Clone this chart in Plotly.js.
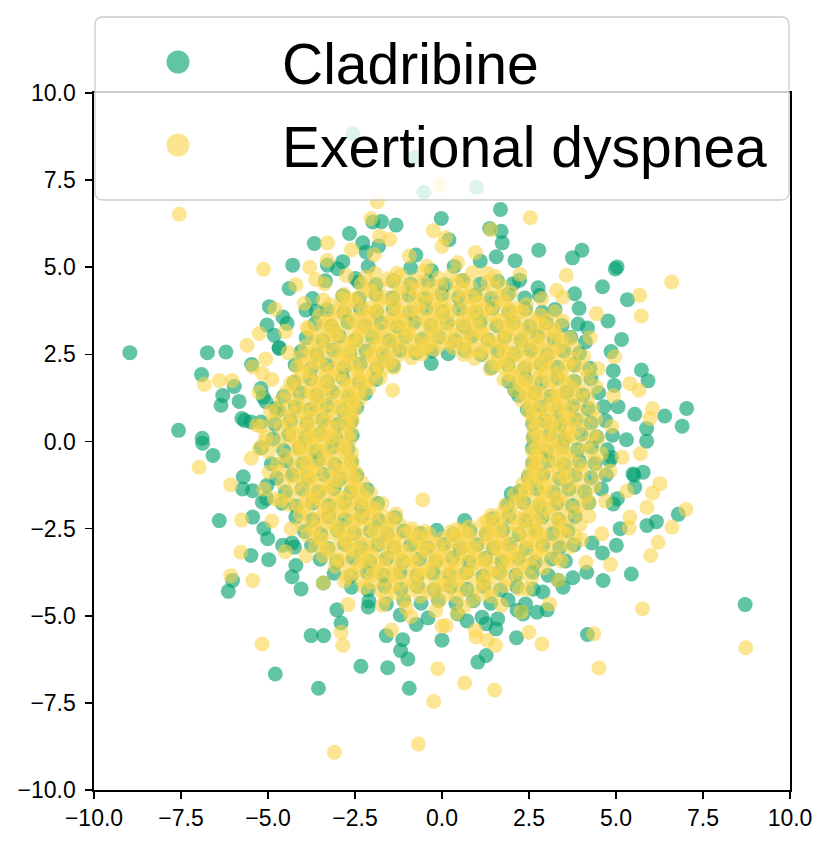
<!DOCTYPE html>
<html>
<head>
<meta charset="utf-8">
<script src="https://cdn.plot.ly/plotly-3.0.1.min.js"></script>
<style>
  html, body { margin: 0; padding: 0; background: #ffffff; }
  #chart { width: 831px; height: 846px; }
</style>
</head>
<body>
<div id="chart"></div>
<script>
// ---------------- data ----------------
const seriesNames = ["Cladribine", "Exertional dyspnea"];
const tickValues = [-10, -7.5, -5, -2.5, 0, 2.5, 5, 7.5, 10];

// Cladribine: dense ring
const cladribineRing = [
[-2.58,0.18],[-3.05,0.1],[-3.5,0.22],[-3.92,0.12],[-4.4,0.2],[-4.85,0.08],[2.62,0.12],[3.1,0.2],[3.52,0.09],[4.0,0.21],[4.45,0.13],[4.9,0.18],
[-2.7,-0.22],[-3.15,-0.15],[-3.62,-0.27],[-4.1,-0.18],[-4.55,-0.25],[2.6,-0.18],[3.0,-0.26],[3.45,-0.14],[3.9,-0.23],[4.3,-0.16],[4.75,-0.24],
[-2.6,0.58],[-2.98,0.5],[-3.42,0.62],[-3.88,0.52],[-4.35,0.6],[-4.8,0.5],[2.6,0.52],[2.95,0.6],[3.4,0.5],[3.85,0.62],[4.28,0.54],[4.7,0.6],
[-2.6,-0.58],[-3.08,-0.66],[-3.55,-0.54],[-4.0,-0.63],[-4.48,-0.56],[-4.9,-0.64],[2.6,-0.62],[3.05,-0.55],[3.5,-0.65],[3.95,-0.57],[4.4,-0.63],[4.82,-0.55],
[-2.45,0.98],[-2.85,0.9],[-3.3,1.02],[-3.78,0.92],[-4.22,1.0],[-4.7,0.9],[2.45,0.92],[2.85,1.0],[3.32,0.9],[3.75,1.02],[4.2,0.94],[4.65,1.0],
[-2.45,-0.98],[-2.92,-1.06],[-3.4,-0.95],[-3.85,-1.04],[-4.3,-0.96],[-4.75,-1.05],[2.48,-1.02],[2.9,-0.95],[3.38,-1.06],[3.82,-0.97],[4.28,-1.04],[4.72,-0.96],
[-2.2,1.38],[-2.68,1.3],[-3.15,1.42],[-3.6,1.32],[-4.08,1.4],[-4.55,1.3],[2.2,1.32],[2.66,1.4],[3.12,1.3],[3.58,1.42],[4.05,1.33],[4.5,1.4],
[-2.15,-1.38],[-2.62,-1.45],[-3.1,-1.35],[-3.55,-1.44],[-4.02,-1.36],[-4.5,-1.45],[2.25,-1.42],[2.72,-1.35],[3.2,-1.46],[3.65,-1.37],[4.1,-1.44],[4.58,-1.36],
[-1.9,1.78],[-2.38,1.7],[-2.85,1.82],[-3.3,1.72],[-3.78,1.8],[-4.25,1.7],[1.92,1.72],[2.4,1.8],[2.86,1.7],[3.32,1.82],[3.8,1.73],[4.28,1.8],
[-1.85,-1.78],[-2.32,-1.86],[-2.8,-1.75],[-3.25,-1.84],[-3.72,-1.76],[-4.2,-1.85],[-4.6,-1.77],[1.88,-1.82],[2.35,-1.75],[2.82,-1.86],[3.3,-1.77],[3.75,-1.84],[4.22,-1.76],
[-1.4,2.18],[-1.88,2.1],[-2.35,2.22],[-2.82,2.12],[-3.3,2.2],[-3.76,2.1],[-4.22,2.2],[1.42,2.12],[1.9,2.2],[2.38,2.1],[2.85,2.22],[3.32,2.13],[3.8,2.2],[4.25,2.1],
[-1.35,-2.18],[-1.82,-2.26],[-2.3,-2.15],[-2.78,-2.24],[-3.25,-2.16],[-3.72,-2.25],[-4.2,-2.17],[1.45,-2.22],[1.92,-2.15],[2.4,-2.26],[2.88,-2.17],[3.35,-2.24],[3.82,-2.16],
[-4.05,2.58],[-3.6,2.5],[-3.12,2.62],[-2.65,2.52],[-2.18,2.6],[-1.7,2.5],[-1.22,2.62],[-0.75,2.55],[-0.3,2.6],[0.18,2.52],[0.65,2.62],[1.12,2.5],[1.6,2.6],[2.08,2.52],[2.55,2.62],[3.02,2.5],[3.5,2.6],[3.95,2.53],
[-3.95,-2.58],[-3.48,-2.66],[-3.0,-2.55],[-2.52,-2.64],[-2.05,-2.56],[-1.58,-2.65],[-1.1,-2.57],[-0.62,-2.64],[-0.15,-2.55],[0.32,-2.66],[0.8,-2.56],[1.28,-2.64],[1.75,-2.55],[2.22,-2.66],[2.7,-2.57],[3.18,-2.64],[3.62,-2.56],
[-3.9,2.98],[-3.42,2.9],[-2.95,3.02],[-2.48,2.92],[-2.0,3.0],[-1.52,2.9],[-1.05,3.02],[-0.58,2.93],[-0.1,3.0],[0.38,2.9],[0.85,3.02],[1.32,2.92],[1.8,3.0],[2.28,2.9],[2.75,3.02],[3.22,2.92],[3.7,2.99],
[-3.75,-2.98],[-3.28,-3.06],[-2.8,-2.95],[-2.32,-3.04],[-1.85,-2.96],[-1.38,-3.05],[-0.9,-2.97],[-0.42,-3.04],[0.05,-2.95],[0.52,-3.06],[1.0,-2.96],[1.48,-3.04],[1.95,-2.95],[2.42,-3.06],[2.9,-2.97],[3.38,-3.04],[3.8,-2.96],
[-3.65,3.38],[-3.18,3.3],[-2.7,3.42],[-2.22,3.32],[-1.75,3.4],[-1.28,3.3],[-0.8,3.42],[-0.32,3.33],[0.15,3.4],[0.62,3.3],[1.1,3.42],[1.58,3.32],[2.05,3.4],[2.52,3.3],[3.0,3.4],[3.45,3.33],
[-3.5,-3.38],[-3.02,-3.45],[-2.55,-3.35],[-2.08,-3.44],[-1.6,-3.36],[-1.12,-3.45],[-0.65,-3.37],[-0.18,-3.44],[0.3,-3.35],[0.78,-3.46],[1.25,-3.36],[1.72,-3.44],[2.2,-3.35],[2.68,-3.46],[3.15,-3.37],[3.55,-3.43],
[-3.3,3.78],[-2.82,3.7],[-2.35,3.82],[-1.88,3.72],[-1.4,3.8],[-0.92,3.7],[-0.45,3.82],[0.02,3.73],[0.5,3.8],[0.98,3.7],[1.45,3.82],[1.92,3.72],[2.4,3.8],[2.88,3.71],[3.25,3.79],
[-3.1,-3.78],[-2.62,-3.86],[-2.15,-3.75],[-1.68,-3.84],[-1.2,-3.76],[-0.72,-3.85],[-0.25,-3.77],[0.22,-3.84],[0.7,-3.75],[1.18,-3.86],[1.65,-3.76],[2.12,-3.84],[2.6,-3.75],[3.05,-3.84],
[-2.85,4.18],[-2.38,4.1],[-1.9,4.22],[-1.42,4.12],[-0.95,4.2],[-0.48,4.1],[0.0,4.22],[0.48,4.13],[0.95,4.2],[1.42,4.1],[1.9,4.22],[2.38,4.12],[2.8,4.19],
[-2.6,-4.18],[-2.12,-4.26],[-1.65,-4.15],[-1.18,-4.24],[-0.7,-4.16],[-0.22,-4.25],[0.25,-4.17],[0.72,-4.24],[1.2,-4.15],[1.68,-4.26],[2.15,-4.17],[2.62,-4.24],
[-2.4,4.58],[-1.9,4.5],[-1.4,4.62],[-0.9,4.52],[-0.4,4.6],[0.1,4.5],[0.6,4.62],[1.1,4.52],[1.6,4.6],[2.05,4.53],
[-2.1,-4.58],[-1.6,-4.66],[-1.1,-4.55],[-0.6,-4.64],[-0.1,-4.56],[0.4,-4.65],[0.9,-4.57],[1.4,-4.64],[1.9,-4.55],
[-0.9,4.98],[-0.3,4.9],[0.35,5.02],
[-1.2,-4.98],[-0.4,-5.06],[0.45,-4.95],[1.15,-5.04]
];

// Cladribine: outer band of the ring
const cladribineBand = [
[5.3,0.05],[5.54,0.78],[4.95,1.61],[4.86,2.58],[4.18,3.26],[3.81,4.24],[2.76,4.41],[2.1,5.19],[1.1,5.18],[0.2,5.79],
[-0.75,5.35],[-1.82,5.61],[-2.49,4.68],[-3.35,4.61],[-3.61,3.74],[-4.57,3.57],[-4.68,2.7],[-5.47,2.21],[-5.14,1.28],[-5.67,0.6],
[-5.19,-0.18],[-5.71,-1.01],[-5.04,-1.64],[-5.12,-2.5],[-4.31,-2.91],[-4.31,-3.88],[-3.41,-4.06],[-3.02,-4.83],[-2.12,-4.75],[-1.6,-5.57],
[-0.74,-5.25],[0.0,-5.7],[0.72,-5.15],[1.55,-5.38],[2.16,-4.84],[3.02,-4.83],[3.34,-3.98],[4.16,-3.75],[4.31,-2.91],[5.12,-2.5],
[5.04,-1.64],[5.52,-0.97]
];

// Cladribine: scattered points outside the ring
const cladribineOutliers = [
[-8.97,2.55],[-6.74,2.55],[-6.21,2.57],[-6.91,1.92],[-5.97,1.58],[-6.3,1.32],[-5.83,1.15],[-6.35,1.04],[-5.75,0.66],[-7.57,0.32],
[-6.89,0.09],[-4.96,3.87],[-5.03,3.34],[-4.39,4.39],[-4.29,5.06],[-3.67,5.68],[-2.66,5.97],[-2.28,5.7],[-2.18,5.44],[-1.99,6.3],
[-1.74,6.31],[-1.32,6.21],[-3.29,5.06],[-3.0,4.96],[-2.85,5.16],[-2.12,5.02],[-3.72,4.1],[-4.45,3.39],[-3.91,3.77],[-0.31,2.24],
[-0.02,6.4],[-4.68,2.67],[-4.82,3.05],[-5.2,1.52],[-5.06,1.14],[-4.77,0.95],[-5.49,0.56],[-5.2,0.56],
[1.68,6.66],[1.37,6.11],[1.7,6.03],[1.73,5.7],[1.56,5.3],[2.78,5.49],[4.02,5.49],[3.75,5.27],[5.03,5.01],[4.98,4.95],
[4.61,4.44],[5.33,4.07],[3.94,3.82],[3.91,3.37],[4.77,3.46],[5.16,2.93],[5.73,2.05],[5.92,1.74],[4.92,2.03],[6.4,0.73],
[7.03,0.95],[6.9,0.44],[5.88,0.37],[5.06,1.0],[4.12,2.86],[2.09,1.47],[2.23,4.63],
[-6.88,-0.05],[-6.58,-0.4],[-5.73,-1.36],[-5.44,-1.41],[-6.4,-2.27],[-5.44,-2.17],[-5.03,-1.26],[-5.16,-1.74],[-5.49,-3.27],[-5.01,-2.79],
[-4.98,-3.39],[-6.02,-3.99],[-6.14,-4.3],[-4.2,-3.56],[-4.05,-4.23],[-4.58,-2.98],[-4.24,-3.03],[-3.76,-5.57],[-3.4,-5.57],[-4.79,-6.67],
[-3.55,-7.08],[-2.33,-6.45],[-1.56,-6.49],[-0.98,-6.24],[-1.13,-5.69],[-1.19,-6.0],[-0.94,-7.08],[-2.9,-5.21],
[8.71,-4.68],[4.18,-5.54],[1.03,-6.33],[1.27,-6.14],[5.44,-3.8],[4.63,-3.99],[5.89,-2.41],[6.16,-2.3],[6.79,-2.09],[5.54,-1.31],
[5.49,-0.93],[5.78,-0.88],[5.88,0.01],[4.87,-0.45],[4.92,-1.79],[5.01,-2.98],[4.61,-3.2],[3.76,-3.91],[3.48,-4.18],[2.9,-4.32],
[2.73,-4.9],[2.4,-4.66],[2.33,-4.95],[1.6,-5.09],[2.14,-5.63],[1.27,-5.23],[0.65,-2.27],[1.99,-1.5],
[-2.56,8.83],[-0.76,8.16],[-0.52,7.15],[0.99,7.3]
];

// Exertional dyspnea: dense ring
const dyspneaRing = [
[-2.65,0.05],[-2.93,-0.1],[-3.22,0.12],[-3.48,-0.04],[-3.74,0.08],[-4.02,-0.12],[-4.38,0.1],[-4.72,-0.02],[-5.05,0.15],[2.62,0.1],[2.88,-0.08],[3.14,0.05],[3.43,-0.12],[3.77,0.14],[4.12,-0.05],[4.48,0.09],
[-2.62,0.28],[-3.04,0.35],[-3.33,0.22],[-3.63,0.4],[-3.92,0.3],[-4.27,0.25],[-4.62,0.38],[2.64,0.33],[2.97,0.24],[3.28,0.4],[3.58,0.27],[3.91,0.36],[4.32,0.22],
[-2.6,-0.32],[-2.83,-0.25],[-3.12,-0.38],[-3.47,-0.27],[-3.82,-0.35],[-4.13,-0.22],[-4.53,-0.4],[-4.98,-0.3],[-5.25,-0.2],[2.6,-0.28],[2.92,-0.36],[3.18,-0.22],[3.52,-0.4],[3.83,-0.3],[4.22,-0.25],[4.58,-0.35],
[-2.58,0.62],[-2.77,0.55],[-3.07,0.7],[-3.38,0.58],[-3.77,0.66],[-4.12,0.52],[-4.48,0.68],[-4.85,0.6],[2.6,0.57],[2.82,0.65],[3.13,0.53],[3.47,0.7],[3.72,0.6],[4.07,0.55],[4.42,0.64],
[-2.58,-0.58],[-2.87,-0.66],[-3.23,-0.54],[-3.57,-0.7],[-3.88,-0.6],[-4.32,-0.52],[-4.73,-0.65],[2.6,-0.62],[2.77,-0.55],[3.07,-0.7],[3.33,-0.6],[3.67,-0.52],[3.98,-0.66],[4.37,-0.58],
[-2.5,0.92],[-2.72,0.85],[-3.02,0.98],[-3.28,0.84],[-3.67,0.95],[-4.02,0.88],[-4.38,0.96],[-4.75,0.9],[2.48,0.88],[2.72,0.95],[3.02,0.84],[3.28,0.97],[3.62,0.9],[3.93,0.83],[4.32,0.94],
[-2.48,-0.88],[-2.67,-0.95],[-2.97,-0.84],[-3.28,-0.97],[-3.62,-0.9],[-3.93,-0.83],[-4.32,-0.95],[-4.67,-0.86],[2.5,-0.92],[2.72,-0.85],[3.07,-0.96],[3.38,-0.87],[3.72,-0.93],[4.03,-0.84],[4.47,-0.9],
[-2.35,1.22],[-2.57,1.15],[-2.92,1.28],[-3.23,1.13],[-3.57,1.25],[-3.88,1.18],[-4.27,1.3],[-4.62,1.2],[2.3,1.18],[2.57,1.26],[2.88,1.14],[3.22,1.27],[3.52,1.2],[3.87,1.12],[4.18,1.25],
[-2.3,-1.18],[-2.52,-1.26],[-2.87,-1.13],[-3.17,-1.27],[-3.48,-1.2],[-3.87,-1.12],[-4.22,-1.25],[-4.58,-1.2],[2.32,-1.22],[2.62,-1.15],[2.93,-1.28],[3.32,-1.14],[3.63,-1.24],[4.02,-1.17],[4.38,-1.28],
[-2.1,1.52],[-2.42,1.45],[-2.73,1.58],[-3.12,1.44],[-3.38,1.56],[-3.77,1.48],[-4.08,1.55],[-4.47,1.43],[2.1,1.48],[2.37,1.56],[2.68,1.43],[3.07,1.57],[3.33,1.46],[3.72,1.54],[4.03,1.45],[4.42,1.58],
[-2.05,-1.48],[-2.32,-1.56],[-2.63,-1.43],[-3.02,-1.57],[-3.33,-1.46],[-3.72,-1.54],[-4.03,-1.45],[-4.42,-1.55],[2.08,-1.52],[2.42,-1.44],[2.73,-1.58],[3.12,-1.46],[3.43,-1.55],[3.82,-1.43],[4.13,-1.56],
[-1.78,1.82],[-2.12,1.75],[-2.43,1.88],[-2.82,1.74],[-3.13,1.86],[-3.52,1.78],[-3.83,1.85],[-4.22,1.73],[1.78,1.78],[2.12,1.86],[2.43,1.74],[2.82,1.87],[3.08,1.76],[3.47,1.84],[3.78,1.73],[4.17,1.86],
[-1.72,-1.78],[-2.07,-1.86],[-2.38,-1.74],[-2.72,-1.87],[-3.03,-1.76],[-3.42,-1.84],[-3.73,-1.73],[-4.12,-1.86],[-4.42,-1.8],[1.82,-1.82],[2.13,-1.75],[2.52,-1.88],[2.83,-1.74],[3.22,-1.86],[3.53,-1.78],[3.92,-1.85],[4.23,-1.74],
[-1.38,2.12],[-1.72,2.05],[-2.03,2.18],[-2.42,2.04],[-2.73,2.16],[-3.12,2.08],[-3.43,2.15],[-3.82,2.03],[-4.17,2.14],[1.38,2.08],[1.72,2.16],[2.03,2.04],[2.42,2.17],[2.73,2.06],[3.12,2.14],[3.43,2.03],[3.82,2.16],[4.12,2.08],
[-1.32,-2.08],[-1.67,-2.16],[-1.98,-2.04],[-2.37,-2.17],[-2.68,-2.06],[-3.07,-2.14],[-3.38,-2.03],[-3.77,-2.16],[-4.08,-2.08],[1.42,-2.12],[1.73,-2.05],[2.12,-2.18],[2.43,-2.04],[2.82,-2.16],[3.13,-2.07],[3.52,-2.15],[3.83,-2.03],[4.22,-2.14],
[-4.07,2.42],[-3.68,2.35],[-3.37,2.48],[-2.98,2.34],[-2.67,2.46],[-2.28,2.38],[-1.97,2.45],[-1.58,2.33],[-1.27,2.47],[-0.88,2.4],[-0.57,2.52],[0.62,2.5],[0.93,2.38],[1.32,2.46],[1.63,2.34],[2.02,2.44],[2.33,2.37],[2.72,2.47],[3.03,2.35],[3.42,2.45],[3.73,2.36],[4.07,2.44],
[-4.02,-2.38],[-3.63,-2.46],[-3.32,-2.34],[-2.93,-2.47],[-2.62,-2.36],[-2.23,-2.44],[-1.92,-2.33],[-1.53,-2.46],[-1.22,-2.38],[-0.87,-2.5],[0.42,-2.52],[0.78,-2.45],[1.17,-2.36],[1.48,-2.47],[1.87,-2.35],[2.18,-2.44],[2.57,-2.37],[2.88,-2.46],[3.27,-2.34],[3.58,-2.45],[3.97,-2.38],
[-3.92,2.72],[-3.53,2.65],[-3.22,2.78],[-2.83,2.64],[-2.52,2.76],[-2.13,2.68],[-1.82,2.75],[-1.43,2.63],[-1.12,2.77],[-0.73,2.66],[-0.42,2.74],[-0.03,2.8],[0.32,2.7],[0.63,2.78],[1.02,2.65],[1.33,2.76],[1.72,2.64],[2.03,2.75],[2.42,2.67],[2.73,2.77],[3.12,2.64],[3.43,2.74],[3.82,2.66],
[-3.87,-2.68],[-3.48,-2.76],[-3.17,-2.63],[-2.78,-2.77],[-2.47,-2.66],[-2.08,-2.74],[-1.77,-2.64],[-1.38,-2.78],[-1.07,-2.67],[-0.68,-2.75],[-0.37,-2.65],[0.02,-2.78],[0.33,-2.7],[0.72,-2.64],[1.03,-2.77],[1.42,-2.66],[1.73,-2.74],[2.12,-2.63],[2.43,-2.76],[2.82,-2.67],[3.13,-2.75],[3.52,-2.64],[3.83,-2.72],
[-3.72,3.02],[-3.33,2.95],[-3.02,3.08],[-2.63,2.94],[-2.32,3.06],[-1.93,2.98],[-1.62,3.05],[-1.23,2.93],[-0.92,3.07],[-0.53,2.96],[-0.22,3.04],[0.17,2.93],[0.48,3.06],[0.87,2.97],[1.18,3.05],[1.57,2.94],[1.88,3.07],[2.27,2.96],[2.58,3.04],[2.97,2.93],[3.28,3.06],[3.67,2.97],
[-3.63,-2.98],[-3.32,-3.06],[-2.93,-2.93],[-2.62,-3.07],[-2.23,-2.96],[-1.92,-3.04],[-1.53,-2.94],[-1.22,-3.08],[-0.83,-2.97],[-0.52,-3.05],[-0.13,-2.95],[0.18,-3.07],[0.57,-2.96],[0.88,-3.04],[1.27,-2.93],[1.58,-3.06],[1.97,-2.97],[2.28,-3.05],[2.67,-2.94],[2.98,-3.07],[3.37,-2.96],[3.68,-3.03],
[-3.87,3.28],[-3.43,3.35],[-3.12,3.24],[-2.73,3.36],[-2.42,3.25],[-2.03,3.34],[-1.72,3.23],[-1.33,3.37],[-1.02,3.26],[-0.63,3.35],[-0.32,3.24],[0.07,3.36],[0.38,3.27],[0.77,3.34],[1.08,3.23],[1.47,3.36],[1.78,3.25],[2.17,3.35],[2.48,3.24],[2.87,3.37],[3.18,3.26],
[-3.42,-3.28],[-3.03,-3.36],[-2.72,-3.24],[-2.33,-3.35],[-2.02,-3.25],[-1.63,-3.36],[-1.32,-3.23],[-0.93,-3.34],[-0.62,-3.26],[-0.23,-3.37],[0.08,-3.25],[0.47,-3.35],[0.78,-3.24],[1.17,-3.36],[1.48,-3.27],[1.87,-3.34],[2.18,-3.23],[2.57,-3.36],[2.88,-3.25],[3.27,-3.33],
[-3.52,3.62],[-3.08,3.55],[-2.77,3.68],[-2.38,3.54],[-2.07,3.66],[-1.68,3.57],[-1.37,3.65],[-0.98,3.53],[-0.67,3.67],[-0.28,3.56],[0.03,3.64],[0.42,3.53],[0.73,3.66],[1.12,3.57],[1.43,3.65],[1.82,3.54],[2.13,3.67],[2.52,3.56],[2.83,3.63],
[-3.07,-3.58],[-2.68,-3.66],[-2.37,-3.54],[-1.98,-3.67],[-1.67,-3.56],[-1.28,-3.64],[-0.97,-3.53],[-0.58,-3.66],[-0.27,-3.57],[0.12,-3.65],[0.43,-3.54],[0.82,-3.67],[1.13,-3.56],[1.52,-3.64],[1.83,-3.53],[2.22,-3.66],[2.53,-3.57],[2.92,-3.63],
[-3.22,3.92],[-2.78,3.85],[-2.47,3.98],[-2.08,3.84],[-1.77,3.96],[-1.38,3.87],[-1.07,3.95],[-0.68,3.83],[-0.37,3.97],[0.02,3.86],[0.33,3.94],[0.72,3.84],[1.03,3.96],[1.42,3.87],[1.73,3.95],[2.12,3.84],[2.43,3.93],
[-2.72,-3.88],[-2.33,-3.96],[-2.02,-3.84],[-1.63,-3.97],[-1.32,-3.86],[-0.93,-3.94],[-0.62,-3.83],[-0.23,-3.96],[0.08,-3.87],[0.47,-3.95],[0.78,-3.84],[1.17,-3.96],[1.48,-3.86],[1.87,-3.94],[2.18,-3.85],[2.57,-3.93],
[-2.82,4.22],[-2.38,4.15],[-2.02,4.28],[-1.58,4.14],[-1.22,4.26],[-0.78,4.17],[-0.42,4.25],[0.02,4.13],[0.38,4.27],[0.82,4.16],[1.18,4.24],[1.62,4.14],[1.98,4.26],
[-2.22,-4.18],[-1.78,-4.26],[-1.42,-4.14],[-0.98,-4.27],[-0.62,-4.16],[-0.18,-4.24],[0.18,-4.13],[0.62,-4.26],[0.98,-4.17],[1.42,-4.25],[1.78,-4.14],[2.22,-4.23],
[-2.32,4.52],[-1.83,4.45],[-1.42,4.58],[-0.93,4.44],[-0.52,4.56],[-0.03,4.47],[0.42,4.55],[0.83,4.43],[1.32,4.57],[1.73,4.46],
[-1.62,-4.48],[-1.08,-4.56],[-0.62,-4.44],[-0.08,-4.57],[0.42,-4.46],[0.88,-4.55],[1.42,-4.43],
[-1.92,4.82],[-1.18,4.75],[-0.52,4.88],[0.27,4.77],[0.88,4.85],[1.52,4.74],
[-1.02,-4.78],[-0.18,-4.86],[0.62,-4.75]
];

// Exertional dyspnea: second, interleaved layer in the ring core (patchy)
const dyspneaCore = [
[-2.75,0.17],[-3.12,0.12],[-3.55,0.19],[-3.9,0.1],[-4.28,0.16],[2.78,0.14],[3.25,0.18],[3.62,0.11],
[-2.8,-0.13],[-3.3,-0.18],[-3.7,-0.12],[-4.15,-0.17],[2.72,-0.16],[3.05,-0.12],[3.45,-0.19],
[-2.7,0.47],[-3.2,0.42],[-3.85,0.43],[-4.4,0.48],[2.75,0.44],[3.15,0.49],[3.65,0.42],
[-2.72,-0.47],[-3.4,-0.49],[-3.95,-0.42],[2.7,-0.43],[3.25,-0.48],
[-2.62,0.77],[-3.5,0.79],[-3.9,0.73],[-4.3,0.78],[2.62,0.73],[3.05,0.78],[3.55,0.72],
[-2.65,-0.73],[-3.1,-0.78],[-3.75,-0.79],[-4.15,-0.74],[2.65,-0.77],[3.55,-0.78],
[-2.55,1.07],[-2.85,1.02],[-3.55,1.03],[-4.15,1.08],[2.55,1.03],[3.15,1.08],[3.45,1.02],
[-2.55,-1.03],[-3.05,-1.08],[-3.75,-1.07],[-4.05,-1.03],[2.55,-1.07],[2.8,-1.02],[3.55,-1.03],
[-2.42,1.37],[-2.75,1.32],[-3.4,1.33],[-3.75,1.38],[2.42,1.33],[2.8,1.38],[3.35,1.32],[3.75,1.37],
[-2.45,-1.33],[-3.3,-1.32],[-3.7,-1.37],[2.42,-1.37],[2.95,-1.32],
[-2.25,1.67],[-2.6,1.62],[-3.3,1.63],[-3.6,1.68],[-4.35,1.67],[2.25,1.63],[2.6,1.68],[3.55,1.67],
[-2.2,-1.63],[-2.55,-1.68],[-2.85,-1.62],[-3.55,-1.63],[-3.9,-1.68],[2.25,-1.67],[2.95,-1.68],[3.3,-1.63],
[-1.95,1.97],[-2.3,1.92],[-2.95,1.93],[-3.3,1.98],[-4.0,1.97],[1.95,1.93],[2.3,1.98],[2.95,1.97],[3.3,1.93],
[-1.92,-1.93],[-2.25,-1.98],[-2.9,-1.97],[-3.25,-1.93],[-3.95,-1.92],[1.95,-1.97],[2.65,-1.98],[3.0,-1.93],
[-1.5,2.27],[-1.85,2.22],[-2.55,2.23],[-2.9,2.28],[-3.6,2.27],[-3.95,2.23],[1.55,2.23],[1.9,2.28],[2.6,2.27],[2.95,2.23],[3.62,2.22],
[-1.45,-2.23],[-2.15,-2.22],[-2.5,-2.27],[-3.2,-2.28],[-3.55,-2.22],[1.3,-2.27],[1.62,-2.22],[2.3,-2.23],[2.65,-2.28],[3.35,-2.27],
[-3.75,2.57],[-3.05,2.59],[-2.7,2.53],[-2.0,2.52],[-1.65,2.57],[-0.95,2.6],[-0.6,2.62],[-0.2,2.65],[0.75,2.6],[1.1,2.57],[1.8,2.58],[2.15,2.52],[2.85,2.53],[3.2,2.58],
[-3.7,-2.53],[-3.0,-2.52],[-2.65,-2.57],[-1.95,-2.58],[-1.6,-2.52],[-0.9,-2.6],[-0.5,-2.58],[0.25,-2.6],[0.6,-2.57],[1.3,-2.58],[1.65,-2.52],[2.35,-2.53],[2.7,-2.58],[3.4,-2.57],
[-3.55,2.87],[-2.85,2.89],[-2.5,2.83],[-1.8,2.82],[-1.45,2.87],[-0.75,2.88],[-0.4,2.82],[0.3,2.83],[0.65,2.88],[1.35,2.87],[1.7,2.83],[2.4,2.82],[2.75,2.87],[3.45,2.88],
[-3.5,-2.83],[-2.8,-2.82],[-2.45,-2.87],[-1.75,-2.88],[-1.4,-2.82],[-0.7,-2.83],[-0.35,-2.88],[0.35,-2.87],[0.7,-2.83],[1.4,-2.82],[1.75,-2.87],[2.45,-2.88],[2.8,-2.82],
[-3.4,3.17],[-3.05,3.12],[-2.35,3.13],[-2.0,3.18],[-1.3,3.17],[-0.95,3.13],[-0.25,3.12],[0.1,3.17],[0.8,3.18],[1.15,3.12],[1.85,3.13],[2.2,3.18],[2.9,3.17],[3.25,3.13],
[-3.25,-3.13],[-2.55,-3.12],[-2.2,-3.17],[-1.5,-3.18],[-1.15,-3.12],[-0.45,-3.13],[-0.1,-3.18],[0.6,-3.17],[0.95,-3.13],[1.65,-3.12],[2.0,-3.17],[2.7,-3.18],
[-3.25,3.47],[-2.55,3.49],[-2.2,3.43],[-1.5,3.42],[-1.15,3.47],[-0.45,3.48],[-0.1,3.42],[0.6,3.43],[0.95,3.48],[1.65,3.47],[2.0,3.43],[2.7,3.42],[3.0,3.47],
[-2.95,-3.43],[-2.25,-3.42],[-1.9,-3.47],[-1.2,-3.48],[-0.85,-3.42],[-0.15,-3.43],[0.2,-3.48],[0.9,-3.47],[1.25,-3.43],[1.95,-3.42],[2.3,-3.47],
[-2.95,3.77],[-2.25,3.79],[-1.9,3.73],[-1.2,3.72],[-0.85,3.77],[-0.15,3.78],[0.2,3.72],[0.9,3.73],[1.25,3.78],[1.95,3.77],[2.3,3.73],
[-2.5,-3.73],[-1.8,-3.72],[-1.45,-3.77],[-0.75,-3.78],[-0.4,-3.72],[0.3,-3.73],[0.65,-3.78],[1.35,-3.77],[1.7,-3.73],
[-2.6,4.07],[-1.8,4.09],[-1.4,4.03],[-0.6,4.02],[-0.2,4.07],[0.6,4.08],[1.0,4.02],[1.8,4.03],
[-2.0,-4.03],[-1.2,-4.02],[-0.8,-4.07],[0.0,-4.08],[0.4,-4.02],[1.2,-4.03],
[-2.1,4.37],[-1.2,4.39],[-0.75,4.33],[-0.3,4.38],[0.6,4.37],[1.5,4.38],
[-1.35,-4.33],[-0.35,-4.32],[0.15,-4.37],[1.15,-4.38],
[-1.55,4.67],[-0.8,4.62],[-0.1,4.69],[0.6,4.63]
];

// Exertional dyspnea: outer band of the ring
const dyspneaBand = [
[4.88,0.43],[4.93,1.32],[4.48,2.09],[4.26,2.98],[3.46,3.46],[3.47,4.14],[2.87,4.1],[2.24,4.8],[1.29,4.83],[0.96,5.42],
[0.45,5.13],[0.0,5.6],[-0.44,5.03],[-0.94,5.32],[-1.29,4.83],[-1.95,5.36],[-2.2,4.71],[-2.75,4.76],[-2.87,4.1],[-3.63,4.65],
[-3.41,4.06],[-3.96,3.96],[-3.83,3.22],[-4.5,3.16],[-4.42,2.55],[-5.07,2.37],[-4.89,1.78],[-5.26,1.41],[-4.93,0.87],[-5.33,0.47],
[-5.1,0.0],[-5.48,-0.48],[-4.97,-0.88],[-5.12,-1.37],[-4.65,-1.69],[-4.89,-2.28],[-4.33,-2.5],[-4.5,-3.16],[-3.91,-3.28],[-3.41,-4.06],
[-2.81,-4.01],[-2.7,-4.68],[-1.71,-4.7],[-1.45,-5.41],[-0.89,-5.02],[0.0,-5.3],[0.43,-4.93],[0.96,-5.42],[1.71,-4.7],[2.28,-4.89],
[2.45,-4.24],[3.34,-3.98],[3.43,-3.43],[4.14,-3.47],[4.01,-2.81],[4.59,-2.65],[4.7,-1.71],[5.31,-1.42],[4.83,-0.85],[5.18,-0.45],
[-3.3,5.2],[-2.6,5.5],[-4.2,4.5],[-1.5,5.8],[-3.8,5.0],[-4.8,3.8],[-0.25,6.05],[0.1,5.85]
];

// Exertional dyspnea: scattered points outside the ring
const dyspneaOutliers = [
[-7.55,6.52],[-6.83,1.64],[-6.4,1.75],[-6.03,1.75],[-5.6,2.76],[-5.25,3.1],[-5.13,4.94],[-3.29,5.7],[-1.86,6.88],[-2.04,6.4],
[-1.8,5.89],[-1.42,1.47],[-5.44,2.14],[-5.16,1.95],[-5.2,0.43],[-3.38,4.53],
[2.54,6.42],[1.4,6.08],[6.6,4.58],[5.68,4.2],[5.73,3.6],[4.44,3.67],[4.96,2.43],[5.4,1.66],[5.66,1.47],[6.05,0.95],
[5.97,0.66],[3.57,4.77],[3.29,4.34],[3.24,3.72],
[-6.98,-0.74],[-6.07,-1.24],[-5.76,-2.25],[-4.82,-1.64],[-5.78,-3.18],[-6.07,-3.85],[-5.44,-3.99],[-5.17,-5.81],[-2.85,-5.85],[-2.9,-5.47],
[-3.09,-8.92],[-0.68,-8.68],[-0.24,-7.46],[-0.12,-6.52],[-0.55,-1.67],
[8.73,-5.92],[5.76,-4.8],[4.51,-6.5],[4.36,-5.52],[2.87,-5.81],[1.51,-7.13],[0.65,-6.93],[1.54,-5.85],[1.3,-5.7],[6.0,-3.27],
[6.21,-2.89],[6.61,-2.46],[7.01,-1.95],[5.4,-2.17],[5.38,-2.48],[5.89,-1.89],[6.05,-1.48],[6.26,-1.21],[5.7,-0.35],[4.84,-3.53],
[3.09,-4.66],[2.5,-5.47],[0.98,-5.61],[0.12,-5.28],
[-0.06,7.35]
];

// ---------------- build traces ----------------
const cladribinePoints = cladribineRing.concat(cladribineBand, cladribineOutliers);
const dyspneaPoints = dyspneaRing.concat(dyspneaCore, dyspneaBand, dyspneaOutliers);

const GREEN = "rgb(0,160,110)";
const YELLOW = "rgb(250,212,70)";

const traces = [
  {
    type: "scatter", mode: "markers", name: seriesNames[0],
    x: cladribinePoints.map(p => p[0]), y: cladribinePoints.map(p => p[1]),
    marker: { size: 15, color: GREEN, opacity: 0.62, line: { width: 0 } },
    hoverinfo: "skip", showlegend: false
  },
  {
    type: "scatter", mode: "markers", name: seriesNames[1],
    x: dyspneaPoints.map(p => p[0]), y: dyspneaPoints.map(p => p[1]),
    marker: { size: 15, color: YELLOW, opacity: 0.58, line: { width: 0 } },
    hoverinfo: "skip", showlegend: false
  }
];

// ---------------- layout ----------------
const W = 831, H = 846;
const M = { l: 94, r: 41, t: 93, b: 56 };
const plotW = W - M.l - M.r, plotH = H - M.t - M.b;
const PX = px => (px - M.l) / plotW;
const PY = py => (H - M.b - py) / plotH;

// custom legend box (pixel geometry)
const bx0 = PX(95), bx1 = PX(789), by0 = PY(200), by1 = PY(17);
const rx = 8 / plotW, ry = 8 / plotH;
const boxPath = `M ${bx0+rx},${by1} L ${bx1-rx},${by1} Q ${bx1},${by1} ${bx1},${by1-ry} ` +
  `L ${bx1},${by0+ry} Q ${bx1},${by0} ${bx1-rx},${by0} L ${bx0+rx},${by0} ` +
  `Q ${bx0},${by0} ${bx0},${by0+ry} L ${bx0},${by1-ry} Q ${bx0},${by1} ${bx0+rx},${by1} Z`;

const legendRows = [62, 145];
const legendColors = ["rgba(0,160,110,0.62)", "rgba(250,212,70,0.6)"];
const mR = 11.5;

const shapes = [
  { type: "path", xref: "paper", yref: "paper", path: boxPath, layer: "above",
    fillcolor: "rgba(255,255,255,0.8)", line: { color: "#cccccc", width: 1.3 } }
];
legendRows.forEach((cy, i) => {
  shapes.push({ type: "circle", xref: "paper", yref: "paper", layer: "above",
    x0: PX(178 - mR), x1: PX(178 + mR), y0: PY(cy + mR), y1: PY(cy - mR),
    fillcolor: legendColors[i], line: { width: 0 } });
});

const annotations = legendRows.map((cy, i) => ({
  xref: "paper", yref: "paper", x: PX(280), y: PY(cy + 2),
  xanchor: "left", yanchor: "middle", showarrow: false,
  text: seriesNames[i],
  font: { family: "Liberation Sans, Arial, sans-serif", size: 57, color: "#000000" }
}));

const axisCommon = {
  range: [-10, 10], tickmode: "array", tickvals: tickValues, tickformat: ".1f",
  showgrid: false, zeroline: false,
  showline: true, linecolor: "#000000", linewidth: 1.6, mirror: true,
  ticks: "outside", ticklen: 7, tickwidth: 1.6, tickcolor: "#000000",
  tickfont: { family: "Liberation Sans, Arial, sans-serif", size: 23, color: "#000000" },
  fixedrange: true
};

const layout = {
  width: W, height: H,
  margin: M,
  paper_bgcolor: "#ffffff", plot_bgcolor: "#ffffff",
  showlegend: false,
  xaxis: Object.assign({}, axisCommon, { ticklabelstandoff: 0 }),
  yaxis: Object.assign({}, axisCommon, { ticklabelstandoff: 5 }),
  shapes: shapes,
  annotations: annotations
};

Plotly.newPlot("chart", traces, layout, { staticPlot: true, displayModeBar: false });
</script>
</body>
</html>
